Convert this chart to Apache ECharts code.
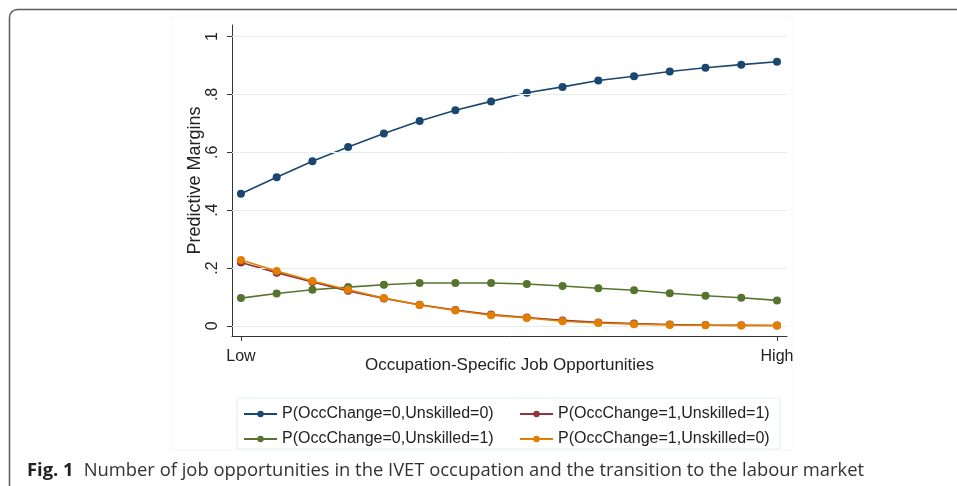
<!DOCTYPE html>
<html>
<head>
<meta charset="utf-8">
<script src="https://cdn.jsdelivr.net/npm/echarts@6/dist/echarts.min.js"></script>
<style>
  html, body { margin: 0; padding: 0; background: #fff; }
  #chart { width: 957px; height: 486px; }
</style>
</head>
<body>
<div id="chart"></div>
<script>
// Steps along the job-opportunity scale, from Low (0) to High (15)
const steps = [0, 1, 2, 3, 4, 5, 6, 7, 8, 9, 10, 11, 12, 13, 14, 15];
const xTickValues = [0, 15];
const xTickLabels = ['Low', 'High'];
const yTickValues = [0, 0.2, 0.4, 0.6, 0.8, 1];

// Predictive margins per outcome
const occ0Unsk0 = [0.457, 0.514, 0.569, 0.618, 0.665, 0.708, 0.745, 0.776, 0.806, 0.826, 0.848, 0.863, 0.879, 0.892, 0.903, 0.913];
const occ1Unsk1 = [0.219, 0.184, 0.152, 0.121, 0.095, 0.073, 0.055, 0.039, 0.029, 0.019, 0.012, 0.008, 0.005, 0.003, 0.002, 0.001];
const occ0Unsk1 = [0.096, 0.112, 0.125, 0.134, 0.142, 0.148, 0.148, 0.148, 0.145, 0.138, 0.130, 0.123, 0.113, 0.104, 0.097, 0.088];
const occ1Unsk0 = [0.228, 0.190, 0.155, 0.125, 0.096, 0.072, 0.053, 0.037, 0.027, 0.016, 0.010, 0.006, 0.003, 0.002, 0.001, 0.001];

const seriesNames = [
  'P(OccChange=0,Unskilled=0)',
  'P(OccChange=1,Unskilled=1)',
  'P(OccChange=0,Unskilled=1)',
  'P(OccChange=1,Unskilled=0)'
];
const seriesColors = ['#1a476f', '#90353b', '#55752f', '#e37e00'];
const seriesValues = [occ0Unsk0, occ1Unsk1, occ0Unsk1, occ1Unsk0];

const FONT = 'Liberation Sans, Arial, sans-serif';
const CAPTION_FONT = 'Open Sans, Noto Sans, sans-serif';

function fmtTick(v) {
  if (Math.abs(v) < 1e-9) return '0';
  if (Math.abs(v - 1) < 1e-9) return '1';
  return v.toFixed(1).replace(/^0/, '');
}

const series = seriesNames.map((name, k) => ({
  name: name,
  type: 'line',
  data: steps.map((s, i) => [s, seriesValues[k][i]]),
  symbol: 'circle',
  symbolSize: 8,
  showSymbol: true,
  color: seriesColors[k],
  lineStyle: { width: 1.6, color: seriesColors[k] },
  itemStyle: { color: seriesColors[k] },
  emphasis: { disabled: true },
  animation: false,
  z: 3 + k
}));

// Horizontal grid lines at the tick values, spanning the full plot region
series.unshift({
  name: 'grid',
  type: 'line',
  data: [],
  silent: true,
  animation: false,
  markLine: {
    silent: true,
    symbol: ['none', 'none'],
    label: { show: false },
    lineStyle: { color: '#e4eef1', width: 1, type: 'solid' },
    data: yTickValues.map(v => ({ yAxis: v })),
    animation: false
  },
  z: 1
});

const legendCommon = {
  orient: 'vertical',
  padding: 0,
  itemWidth: 33,
  itemHeight: 8,
  itemGap: 9,
  textStyle: { fontFamily: FONT, fontSize: 16, color: '#222' },
  selectedMode: false
};

const chart = echarts.init(document.getElementById('chart'), null, { renderer: 'canvas' });
chart.setOption({
  backgroundColor: '#fff',
  animation: false,
  grid: { left: 232, right: 170, top: 25, bottom: 150, containLabel: false },
  xAxis: {
    type: 'value',
    min: -0.25,
    max: 15.28,
    name: 'Occupation-Specific Job Opportunities',
    nameLocation: 'middle',
    nameGap: 21,
    nameMoveOverlap: false,
    nameTextStyle: { fontFamily: FONT, fontSize: 17, color: '#222' },
    axisLine: { show: true, onZero: false, lineStyle: { color: '#333', width: 1 } },
    axisTick: { show: true, length: 5, customValues: xTickValues, lineStyle: { color: '#333' } },
    axisLabel: {
      customValues: xTickValues,
      fontFamily: FONT, fontSize: 16, color: '#222', margin: 13,
      formatter: v => xTickLabels[xTickValues.indexOf(v)]
    },
    splitLine: { show: false }
  },
  yAxis: {
    type: 'value',
    min: -0.035,
    max: 1.04,
    name: 'Predictive Margins',
    nameLocation: 'middle',
    nameGap: 28,
    nameMoveOverlap: false,
    nameTextStyle: { fontFamily: FONT, fontSize: 18, color: '#222' },
    axisLine: { show: true, onZero: false, lineStyle: { color: '#333', width: 1 } },
    axisTick: { show: true, length: 5, customValues: yTickValues, lineStyle: { color: '#333' } },
    axisLabel: {
      customValues: yTickValues,
      rotate: 90,
      fontFamily: FONT, fontSize: 16, color: '#222', margin: 11,
      formatter: v => fmtTick(v)
    },
    splitLine: { show: false }
  },
  legend: [
    Object.assign({ left: 243, top: 406, data: [seriesNames[0], seriesNames[2]] }, legendCommon),
    Object.assign({ left: 519, top: 406, data: [seriesNames[1], seriesNames[3]] }, legendCommon)
  ],
  title: {
    left: 22,
    top: 457,
    text: '{b|Fig. 1}  {n|Number of job opportunities in the IVET occupation and the transition to the labour market}',
    textStyle: {
      fontWeight: 'normal',
      rich: {
        b: { fontFamily: CAPTION_FONT, fontWeight: 'bold', fontSize: 18.4, color: '#222' },
        n: { fontFamily: CAPTION_FONT, fontWeight: 'normal', fontSize: 18.4, color: '#333' }
      }
    }
  },
  graphic: [
    // page frame with rounded corner
    { type: 'rect', silent: true, shape: { x: 9.5, y: 9.5, width: 1000, height: 1000, r: 8 },
      style: { fill: 'none', stroke: '#5a5a5a', lineWidth: 1.5 } },
    // figure panel edge
    { type: 'rect', silent: true, shape: { x: 172, y: 16, width: 620, height: 434 },
      style: { fill: 'none', stroke: '#f6f6f6', lineWidth: 1 } },
    // legend frame
    { type: 'rect', silent: true, shape: { x: 237, y: 398, width: 543, height: 51 },
      style: { fill: 'none', stroke: '#e2eef0', lineWidth: 1 } }
  ],
  series: series
});
</script>
</body>
</html>
